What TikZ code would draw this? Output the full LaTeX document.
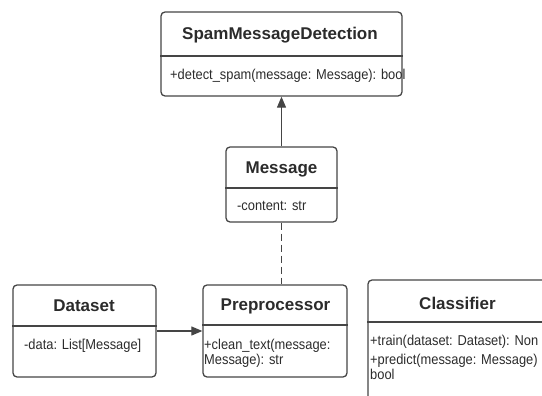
\documentclass[tikz,border=0pt]{standalone}
\usepackage{fontspec}
\setmainfont{Liberation Sans}
\newfontfamily\memberfont{Liberation Sans}[FakeStretch=0.9]
\usetikzlibrary{arrows.meta}
\definecolor{linegray}{HTML}{454545}
\definecolor{textgray}{HTML}{2B2B2B}
\tikzstyle{classbox} = [rectangle, rounded corners=4pt,
draw=linegray,
line width=1.3pt,
inner sep=0pt]
\tikzstyle{classname} = [font=\fontsize{17}{20}\selectfont\bfseries, text=textgray, inner sep=0pt]
\tikzstyle{member} = [font=\memberfont\fontsize{14.3}{15.5}\selectfont, text=textgray, anchor=west, inner sep=0pt, align=left]
\tikzstyle{divider} = [draw=linegray, line width=1.2pt]
\tikzstyle{arrow} = [line width=1.2pt, draw=linegray, -{Triangle[length=11pt,width=9pt]}]

\begin{document}
\begin{tikzpicture}[x=1pt,y=-1pt]
        \useasboundingbox (0,0) rectangle (542,396);
        \clip (0,0) rectangle (542,396);
        % class boxes
        \node (sdm) [classbox, minimum width=241pt, minimum height=84pt] at (281.5,54) {};
        \node (msg) [classbox, minimum width=111pt, minimum height=75pt] at (281.5,184.5) {};
        \node (data) [classbox, minimum width=143pt, minimum height=92pt] at (84.5,331) {};
        \node (pre) [classbox, minimum width=144pt, minimum height=92pt] at (275,331) {};
        \node (clf) [classbox, minimum width=212pt, minimum height=140pt] at (474,350) {};
        \draw [divider] (sdm.west |- 0,56) -- (sdm.east |- 0,56);
        \draw [divider] (msg.west |- 0,188) -- (msg.east |- 0,188);
        \draw [divider] (data.west |- 0,326) -- (data.east |- 0,326);
        \draw [divider] (pre.west |- 0,325) -- (pre.east |- 0,325);
        \draw [divider] (clf.west |- 0,322) -- (clf.east |- 0,322);
        % names and members
        \node (sdmname) [classname] at (280,35) {SpamMessageDetection};
        \node (sdmops) [member] at (170,76) {+detect\_spam(message: Message): bool};
        \node (msgname) [classname] at (281.5,169) {Message};
        \node (msgattr) [member] at (237,206) {-content: str};
        \node (dataname) [classname] at (84,306) {Dataset};
        \node (dataattr) [member] at (24,346) {-data: List[Message]};
        \node (prename) [classname] at (275.5,306) {Preprocessor};
        \node (preops) [member] at (204,353.5) {+clean\_text(message:\\Message): str};
        \node (clfname) [classname] at (457.5,303) {Classifier};
        \node (clftrain) [member] at (370,342) {+train(dataset: Dataset): Non};
        \node (clfpredict) [member] at (370,367) {+predict(message: Message)\\bool};
        % connectors
        \draw [arrow] (msg.north) -- (sdm.south);
        \draw [divider, dash pattern=on 7pt off 4pt] (msg.south) -- (msg.south |- pre.north);
        \draw [arrow] (data.east) -- (pre.west);
    \end{tikzpicture}
\end{document}
